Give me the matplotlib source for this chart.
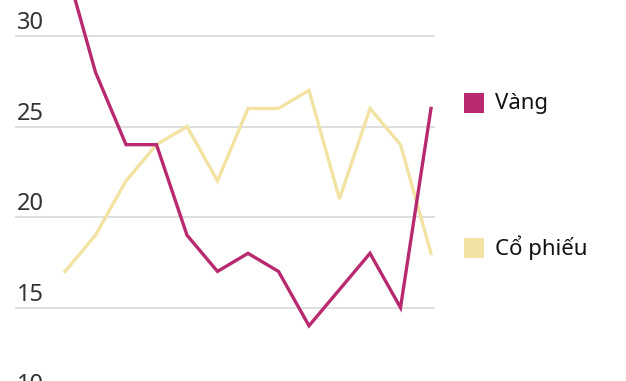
import matplotlib
matplotlib.use("Agg")
import matplotlib.pyplot as plt
from matplotlib.patches import Rectangle
import matplotlib.transforms as mtransforms

plt.rcParams['font.family'] = ['Noto Sans', 'DejaVu Sans']

# Data
periods = list(range(13))
vang = [34, 28, 24, 24, 19, 17, 18, 17, 14, 16, 18, 15, 26]
co_phieu = [17, 19, 22, 24, 25, 22, 26, 26, 27, 21, 26, 24, 18]
series_labels = ["Vàng", "Cổ phiếu"]
y_ticks = [10, 15, 20, 25, 30]

c_vang = "#b8296f"
c_cp = "#f2e3a3"

W, H = 626, 381
fig = plt.figure(figsize=(W / 100, H / 100), dpi=100)
ax = fig.add_axes([0, 0, 1, 1])
ax.set_axis_off()

# pixel mapping: x0=65 px, step 30.5 px ; y: 30 at 36 px, 18.11 px/unit
step = 30.5
x0 = 65
ax.set_xlim(-x0 / step, (W - x0) / step)
pxu = 18.11
ax.set_ylim(30 - (H - 36) / pxu, 30 + 36 / pxu)

# gridlines
for t in y_ticks:
    ax.axhline(t, xmin=16 / W, xmax=434 / W, color="#dcdcdc", lw=1.3, zorder=1)
    ax.text(17 / W, t + 7 / pxu, str(t), transform=mtransforms.blended_transform_factory(ax.transAxes, ax.transData),
            ha="left", va="baseline", fontsize=17, color="#333333")

ax.plot(periods, co_phieu, color=c_cp, lw=2.4, zorder=2, solid_joinstyle="miter")
ax.plot(periods, vang, color=c_vang, lw=2.4, zorder=3, solid_joinstyle="miter")

# legend
for lab, col, yc in [(series_labels[0], c_vang, 103), (series_labels[1], c_cp, 248)]:
    fig.patches.append(Rectangle((464 / W, 1 - (yc + 10) / H), 20 / W, 20 / H,
                                 transform=fig.transFigure, facecolor=col, edgecolor="none"))
    fig.text(495 / W, 1 - yc / H, lab, ha="left", va="center", fontsize=16, color="#111111")

fig.savefig("out.png", dpi=100)
